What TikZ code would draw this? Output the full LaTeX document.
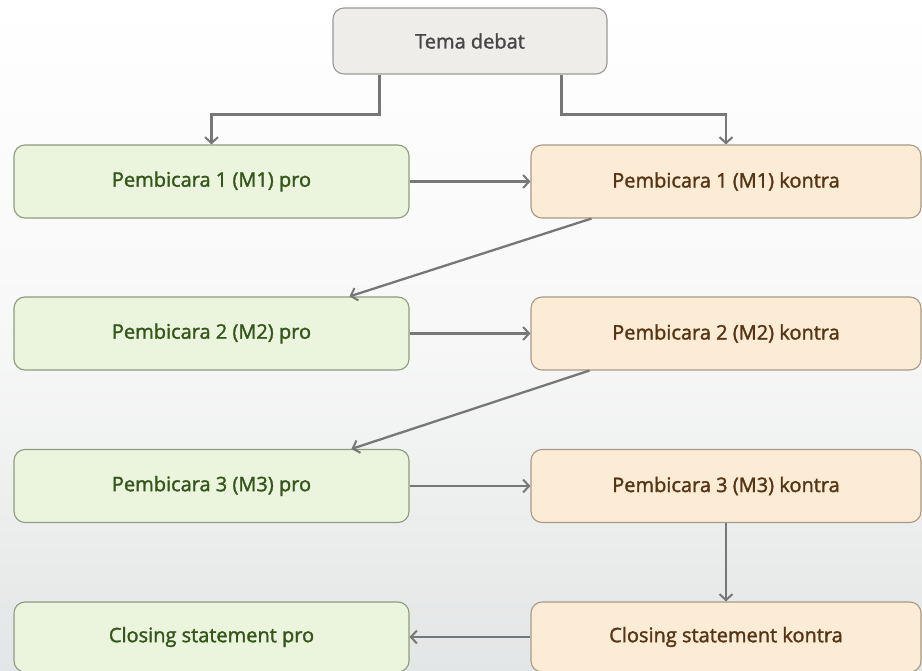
\documentclass[tikz,border=0pt]{standalone}
\usepackage{fontspec}
\setmainfont{Open Sans}
\newfontfamily\semifont{Open Sans}[FakeBold=1.6]
\usetikzlibrary{arrows.meta,calc}
\definecolor{profill}{HTML}{EBF5DD}
\definecolor{prodraw}{HTML}{8E9B80}
\definecolor{protext}{HTML}{35561A}
\definecolor{kontrafill}{HTML}{FCEBD5}
\definecolor{kontradraw}{HTML}{A89A86}
\definecolor{kontratext}{HTML}{553515}
\definecolor{temafill}{HTML}{EFEDE9}
\definecolor{temadraw}{HTML}{9A9A98}
\definecolor{arrowgray}{HTML}{777777}
\definecolor{bgbottom}{HTML}{E3E6E6}
\tikzset{
  box/.style={rectangle, rounded corners=11pt, line width=1.1pt, font=\semifont\fontsize{20}{24}\selectfont, inner sep=0pt},
  probox/.style={box, fill=profill, draw=prodraw, text=protext, minimum width=395pt, minimum height=73pt},
  kontrabox/.style={box, fill=kontrafill, draw=kontradraw, text=kontratext, minimum width=390pt, minimum height=73pt},
  temabox/.style={box, fill=temafill, draw=temadraw, text=black!72, minimum width=274pt, minimum height=66pt},
  arr/.style={draw=arrowgray, line width=2.3pt, -{Straight Barb[length=6pt,width=13pt,line width=2pt]}}
}
\begin{document}
\begin{tikzpicture}[x=1pt,y=-1pt]
\useasboundingbox (0,0) rectangle (922,671);
\shade[top color=white, bottom color=bgbottom, middle color=gray!6] (0,0) rectangle (922,671);
\node[temabox] (tema) at (470,41) {Tema debat};
\node[probox] (p1) at (211.5,181.5) {Pembicara 1 (M1) pro};
\node[kontrabox] (k1) at (726,181.5) {Pembicara 1 (M1) kontra};
\node[probox] (p2) at (211.5,333.5) {Pembicara 2 (M2) pro};
\node[kontrabox] (k2) at (726,333.5) {Pembicara 2 (M2) kontra};
\node[probox] (p3) at (211.5,486) {Pembicara 3 (M3) pro};
\node[kontrabox] (k3) at (726,486) {Pembicara 3 (M3) kontra};
\node[probox, minimum height=70pt] (p4) at (211.5,637) {Closing statement pro};
\node[kontrabox, minimum height=70pt] (k4) at (726,637) {Closing statement kontra};
\draw[arr] ($(tema.south west)+(47,0)$) |- ($(p1.north)+(0,-30)$) -- (p1.north);
\draw[arr] ($(tema.south east)+(-46,0)$) |- ($(k1.north)+(0,-30)$) -- (k1.north);
\draw[arr] (p1.east) -- (k1.west);
\draw[arr] (p2.east) -- (k2.west);
\draw[arr] (p3.east) -- (k3.west);
\draw[arr] ($(k1.south west)+(61,0)$) -- ($(p2.north west)+(336,0)$);
\draw[arr] ($(k2.south west)+(59,0)$) -- ($(p3.north west)+(338,0)$);
\draw[arr] (k3.south) -- (k4.north);
\draw[arr] (k4.west) -- (p4.east);
\end{tikzpicture}
\end{document}
